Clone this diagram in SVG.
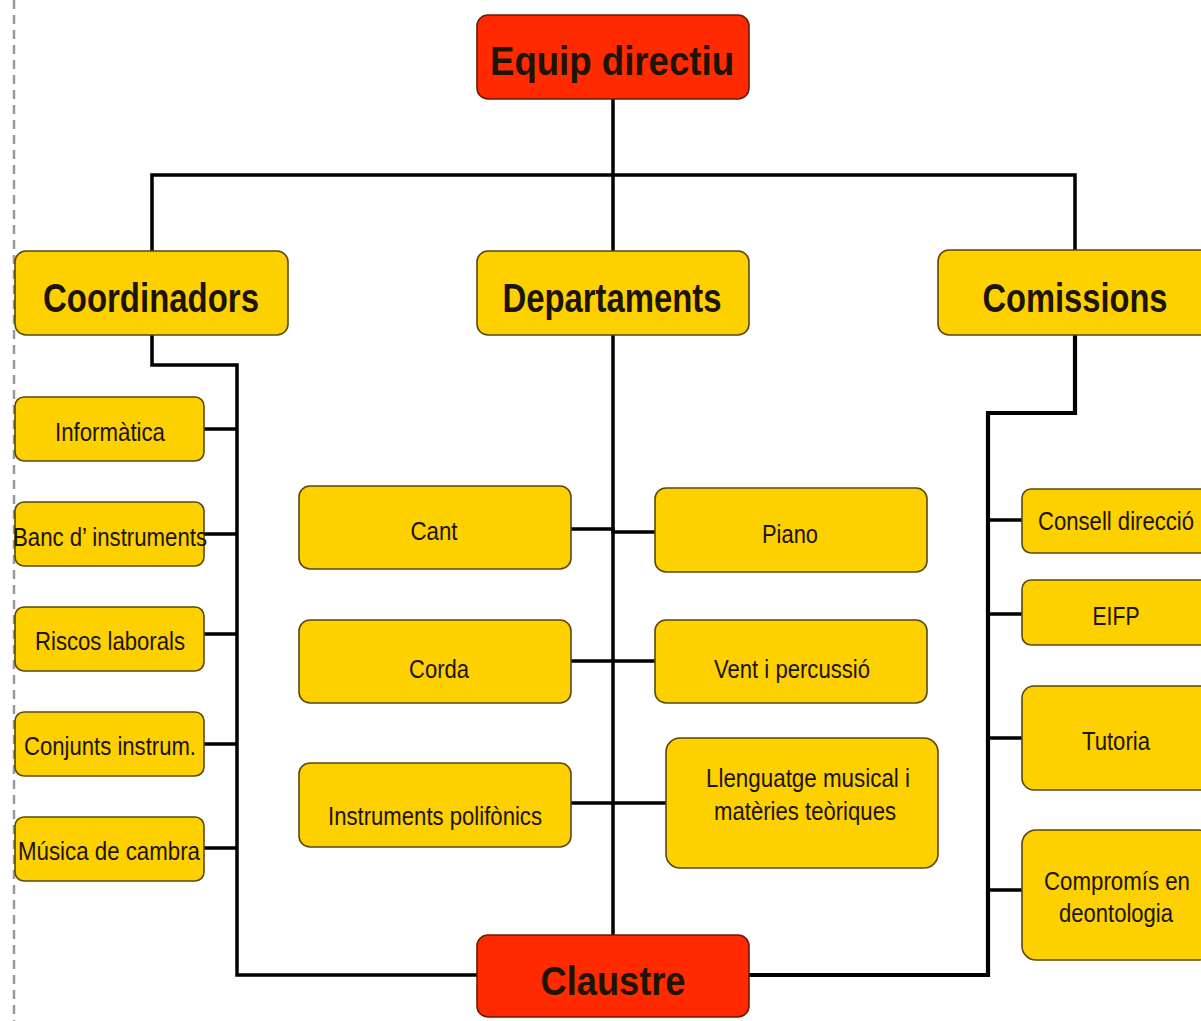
<svg xmlns="http://www.w3.org/2000/svg" width="1201" height="1021" viewBox="0 0 1201 1021">
<style>
.y{fill:#FDD000;stroke:#5a4810;stroke-width:1.6}
.r{fill:#FF2A00;stroke:#6a1a08;stroke-width:1.6}
.t{font-family:"Liberation Sans Narrow","Liberation Sans",Arial,sans-serif;fill:#1c1404;text-anchor:middle}
.h{font-weight:bold;font-size:40px}
.s{font-size:25px}
.c{fill:none;stroke:#000;stroke-width:3.5;stroke-linejoin:miter}
</style>
<rect width="1201" height="1021" fill="#fff"/>
<line x1="14" y1="0" x2="14" y2="1021" stroke="#9a9a9a" stroke-width="2.5" stroke-dasharray="9,6"/>
<g id="connectors">
<path class="c" d="M613,99 V251 M152,251 V175 H1075 V250"/>
<path class="c" d="M152,335 V365 H237 V975 H477"/>
<path class="c" d="M204,429 H237 M204,534 H237 M204,634 H237 M204,744 H237 M204,848 H237"/>
<path class="c" d="M613,335 V935"/>
<path class="c" d="M571,529 H613 V532 H655 M571,661 H655 M571,803 H666"/>
<path class="c" style="stroke-width:4.2" d="M1075,335 V413 H988 V975 H749"/>
<path class="c" d="M988,520 H1022 M988,614 H1022 M988,738 H1022 M988,890 H1022"/>
</g>
<g id="equip"><rect class="r" x="477" y="15" width="272" height="84" rx="11"/><text class="t h" x="612" y="75" font-size="42" textLength="244" lengthAdjust="spacingAndGlyphs">Equip directiu</text></g>
<g id="coordinadors"><rect class="y" x="15" y="251" width="273" height="84" rx="11"/><text class="t h" x="151" y="312" textLength="216" lengthAdjust="spacingAndGlyphs">Coordinadors</text></g>
<g id="departaments"><rect class="y" x="477" y="251" width="272" height="84" rx="11"/><text class="t h" x="612" y="312" textLength="219" lengthAdjust="spacingAndGlyphs">Departaments</text></g>
<g id="comissions"><rect class="y" x="938" y="250" width="275" height="85" rx="11"/><text class="t h" x="1075" y="312" textLength="185" lengthAdjust="spacingAndGlyphs">Comissions</text></g>
<g id="informatica"><rect class="y" x="15" y="397" width="189" height="64" rx="9"/><text class="t s" x="110" y="441" textLength="110" lengthAdjust="spacingAndGlyphs">Informàtica</text></g>
<g id="banc"><rect class="y" x="15" y="502" width="189" height="64" rx="9"/><text class="t s" x="110" y="546" textLength="194" lengthAdjust="spacingAndGlyphs">Banc d’ instruments</text></g>
<g id="riscos"><rect class="y" x="15" y="607" width="189" height="64" rx="9"/><text class="t s" x="110" y="650" textLength="150" lengthAdjust="spacingAndGlyphs">Riscos laborals</text></g>
<g id="conjunts"><rect class="y" x="15" y="712" width="189" height="64" rx="9"/><text class="t s" x="110" y="755" textLength="172" lengthAdjust="spacingAndGlyphs">Conjunts instrum.</text></g>
<g id="musica"><rect class="y" x="15" y="817" width="189" height="64" rx="9"/><text class="t s" x="109" y="860" textLength="182" lengthAdjust="spacingAndGlyphs">Música de cambra</text></g>
<g id="cant"><rect class="y" x="299" y="486" width="272" height="83" rx="11"/><text class="t s" x="434" y="540" textLength="47" lengthAdjust="spacingAndGlyphs">Cant</text></g>
<g id="piano"><rect class="y" x="655" y="488" width="272" height="84" rx="11"/><text class="t s" x="790" y="543" textLength="56" lengthAdjust="spacingAndGlyphs">Piano</text></g>
<g id="corda"><rect class="y" x="299" y="620" width="272" height="83" rx="11"/><text class="t s" x="439" y="678" textLength="60" lengthAdjust="spacingAndGlyphs">Corda</text></g>
<g id="vent"><rect class="y" x="655" y="620" width="272" height="83" rx="11"/><text class="t s" x="792" y="678" textLength="156" lengthAdjust="spacingAndGlyphs">Vent i percussió</text></g>
<g id="polifonics"><rect class="y" x="299" y="763" width="272" height="84" rx="11"/><text class="t s" x="435" y="825" textLength="214" lengthAdjust="spacingAndGlyphs">Instruments polifònics</text></g>
<g id="llenguatge"><rect class="y" x="666" y="738" width="272" height="130" rx="14"/><text class="t s" x="808" y="787" textLength="204" lengthAdjust="spacingAndGlyphs">Llenguatge musical i</text><text class="t s" x="805" y="820" textLength="182" lengthAdjust="spacingAndGlyphs">matèries teòriques</text></g>
<g id="consell"><rect class="y" x="1022" y="489" width="190" height="64" rx="9"/><text class="t s" x="1116" y="530" textLength="156" lengthAdjust="spacingAndGlyphs">Consell direcció</text></g>
<g id="eifp"><rect class="y" x="1022" y="580" width="190" height="65" rx="9"/><text class="t s" x="1116" y="625" textLength="47" lengthAdjust="spacingAndGlyphs">EIFP</text></g>
<g id="tutoria"><rect class="y" x="1022" y="686" width="190" height="104" rx="12"/><text class="t s" x="1116" y="750" textLength="68" lengthAdjust="spacingAndGlyphs">Tutoria</text></g>
<g id="compromis"><rect class="y" x="1022" y="830" width="190" height="130" rx="14"/><text class="t s" x="1117" y="890" textLength="146" lengthAdjust="spacingAndGlyphs">Compromís en</text><text class="t s" x="1116" y="922" textLength="114" lengthAdjust="spacingAndGlyphs">deontologia</text></g>
<g id="claustre"><rect class="r" x="477" y="935" width="272" height="82" rx="11"/><text class="t h" x="613" y="995" font-size="42" textLength="145" lengthAdjust="spacingAndGlyphs">Claustre</text></g>
</svg>
